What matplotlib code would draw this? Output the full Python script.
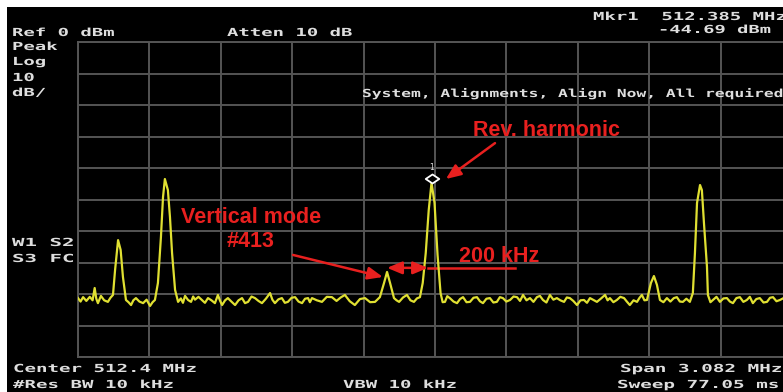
import numpy as np

from matplotlib import pyplot as plt
from matplotlib.path import Path
from matplotlib.patches import Rectangle
from matplotlib.patheffects import AbstractPathEffect
from matplotlib.transforms import Affine2D

W, H = 783, 392  # output size in pixels

# analyzer settings shown on screen
center_mhz = 512.4
span_mhz = 3.082
ref_dbm = 0
db_per_div = 10
atten_db = 10
rbw_khz = 10
vbw_khz = 10
sweep_ms = 77.05

marker_mhz = 512.385
marker_dbm = -44.69

# trace, 8 points per row
trace_mhz = [
    510.859, 510.870, 510.881, 510.895, 510.910, 510.922, 510.931, 510.938,
    510.945, 510.958, 510.972, 510.988, 510.999, 511.010, 511.019, 511.032,
    511.043, 511.053, 511.066, 511.077, 511.088, 511.098, 511.109, 511.124,
    511.140, 511.155, 511.170, 511.181, 511.191, 511.204, 511.217, 511.226,
    511.234, 511.247, 511.256, 511.265, 511.278, 511.291, 511.303, 511.312,
    511.321, 511.334, 511.347, 511.356, 511.364, 511.379, 511.394, 511.407,
    511.420, 511.435, 511.450, 511.463, 511.472, 511.481, 511.494, 511.506,
    511.521, 511.537, 511.552, 511.567, 511.580, 511.593, 511.608, 511.623,
    511.638, 511.653, 511.670, 511.688, 511.698, 511.709, 511.724, 511.739,
    511.752, 511.765, 511.781, 511.796, 511.811, 511.826, 511.839, 511.852,
    511.860, 511.869, 511.890, 511.912, 511.933, 511.955, 511.975, 511.993,
    512.011, 512.032, 512.054, 512.076, 512.098, 512.120, 512.141, 512.162,
    512.180, 512.193, 512.206, 512.223, 512.234, 512.245, 512.262, 512.279,
    512.294, 512.309, 512.322, 512.335, 512.347, 512.360, 512.373, 512.385,
    512.398, 512.411, 512.424, 512.433, 512.443, 512.453, 512.464, 512.480,
    512.495, 512.508, 512.521, 512.536, 512.551, 512.566, 512.581, 512.594,
    512.607, 512.622, 512.637, 512.652, 512.667, 512.680, 512.693, 512.708,
    512.724, 512.739, 512.754, 512.767, 512.780, 512.795, 512.810, 512.825,
    512.840, 512.853, 512.866, 512.881, 512.896, 512.911, 512.926, 512.941,
    512.957, 512.969, 512.982, 512.997, 513.013, 513.028, 513.043, 513.056,
    513.069, 513.084, 513.099, 513.117, 513.134, 513.145, 513.155, 513.170,
    513.185, 513.200, 513.216, 513.228, 513.241, 513.257, 513.272, 513.283,
    513.293, 513.304, 513.315, 513.332, 513.345, 513.358, 513.371, 513.386,
    513.401, 513.416, 513.431, 513.444, 513.457, 513.470, 513.485, 513.500,
    513.513, 513.522, 513.531, 513.544, 513.552, 513.561, 513.574, 513.578,
    513.589, 513.600, 513.615, 513.630, 513.645, 513.660, 513.673, 513.686,
    513.701, 513.716, 513.731, 513.746, 513.759, 513.772, 513.787, 513.802,
    513.818, 513.833, 513.846, 513.859, 513.874, 513.889, 513.915, 513.941,
]
trace_dbm = [
    -81.3, -82.4, -81.0, -82.2, -80.9, -82.0, -78.1, -81.5,
    -82.9, -80.6, -82.0, -82.5, -81.2, -80.3, -72.4, -62.9,
    -66.0, -74.6, -81.9, -82.6, -83.5, -82.0, -81.3, -82.4,
    -82.9, -81.8, -83.8, -82.6, -81.9, -76.5, -61.9, -49.2,
    -43.5, -47.0, -55.6, -67.0, -78.7, -82.5, -81.4, -82.8,
    -80.6, -81.9, -82.5, -80.8, -81.8, -80.9, -81.9, -82.8,
    -81.3, -82.0, -82.9, -80.3, -82.1, -83.5, -82.0, -81.3,
    -82.4, -83.5, -82.0, -81.3, -82.9, -82.5, -80.8, -81.3,
    -82.2, -82.9, -81.5, -79.7, -81.8, -82.9, -81.7, -81.3,
    -82.8, -82.5, -81.2, -81.0, -82.4, -82.9, -81.5, -81.3,
    -82.6, -81.3, -82.0, -82.5, -80.9, -81.0, -82.2, -81.1,
    -80.3, -82.3, -83.5, -81.6, -81.3, -82.6, -82.5, -81.0,
    -76.5, -73.0, -76.5, -81.3, -82.0, -82.5, -81.1, -80.3,
    -82.0, -82.5, -81.4, -81.0, -76.5, -67.0, -53.3, -44.7,
    -51.1, -67.6, -79.7, -82.6, -82.5, -80.7, -81.3, -82.4,
    -82.9, -81.6, -81.0, -82.6, -82.5, -81.2, -81.0, -82.3,
    -82.9, -81.5, -81.3, -82.7, -82.5, -81.0, -81.3, -82.4,
    -81.9, -80.8, -81.0, -82.2, -80.3, -82.0, -81.3, -82.5,
    -81.0, -80.6, -81.9, -82.7, -80.3, -81.8, -81.3, -82.0,
    -82.5, -81.1, -81.3, -82.2, -83.5, -82.0, -81.9, -82.8,
    -81.3, -81.9, -82.5, -81.4, -80.3, -82.0, -81.3, -82.6,
    -81.9, -80.9, -81.3, -82.4, -83.5, -82.0, -82.5, -81.2,
    -80.3, -82.0, -81.9, -76.5, -74.3, -77.1, -81.9, -82.6,
    -81.3, -82.4, -81.3, -81.0, -82.4, -82.5, -81.5, -82.5,
    -79.7, -67.0, -51.1, -45.4, -47.0, -57.5, -71.4, -80.3,
    -82.6, -81.9, -80.9, -82.5, -81.4, -81.3, -82.4, -82.9,
    -81.3, -81.0, -82.5, -81.9, -80.9, -82.9, -81.6, -81.3,
    -82.7, -82.5, -81.2, -81.0, -82.3, -81.9, -80.9, -81.3,
]

SCREEN_FG = '#dedede'
TRACE = '#e0e032'
GRID = '#555555'
RED = '#e8201f'


class Widen(AbstractPathEffect):
    """Stretch text glyphs sideways, the analyzer font is much wider than tall."""

    def __init__(self, sx):
        super().__init__()
        self.sx = sx

    def draw_path(self, renderer, gc, tpath, affine, rgbFace=None):
        renderer.draw_path(gc, tpath, Affine2D().scale(self.sx, 1.0) + affine, rgbFace)


def screen_text(fig, x, y, s, pitch=11.4, size=8.0):
    # x, y: left / baseline in screenshot pixels, pitch: pixels per character
    em = size * fig.dpi / 72
    sx = pitch / (0.602 * em)  # DejaVu Sans Mono advance is 0.602 em
    fig.text(x / W, 1 - y / H, s, family='DejaVu Sans Mono', weight='bold', fontsize=size,
             color=SCREEN_FG, ha='left', va='baseline', path_effects=[Widen(sx)])


def main():
    fig = plt.figure(figsize=(W / 100, H / 100), dpi=100, facecolor='white')

    # black analyzer screen, the screenshot has a thin white margin top and left
    fig.add_artist(Rectangle((7 / W, 0), 1, 1 - 7 / H, transform=fig.transFigure,
                             facecolor='black', edgecolor='none', zorder=0))

    # graticule runs a bit past the right edge of the capture
    ax = fig.add_axes([78 / W, 1 - 357 / H, 714 / W, 315 / H])
    ax.set_facecolor('black')
    left = center_mhz - span_mhz / 2
    right = center_mhz + span_mhz / 2
    ax.set_xlim(left, right)
    ax.set_ylim(ref_dbm - 10 * db_per_div, ref_dbm)
    ax.set_xticks(np.linspace(left, right, 11))
    ax.set_yticks(np.arange(ref_dbm - 10 * db_per_div, ref_dbm + 1, db_per_div))
    ax.tick_params(length=0, labelbottom=False, labelleft=False)
    ax.grid(True, color=GRID, lw=1.4)
    for sp in ax.spines.values():
        sp.set_color(GRID)
        sp.set_linewidth(1.4)

    ax.plot(trace_mhz, trace_dbm, color=TRACE, lw=1.6, zorder=3)

    # marker 1: diamond sitting on top of the peak
    diamond = Path([(0, 0), (1.5, 1), (0, 2), (-1.5, 1), (0, 0)],
                   [Path.MOVETO, Path.LINETO, Path.LINETO, Path.LINETO, Path.CLOSEPOLY])
    ax.plot([marker_mhz], [marker_dbm], marker=diamond, ms=13, mfc='black',
            mec='white', mew=1.3, ls='none', zorder=4)
    ax.annotate('1', (marker_mhz, marker_dbm), xytext=(0, 9.5), textcoords='offset points',
                ha='center', va='baseline', fontsize=5.5, color=SCREEN_FG)

    # red annotations
    label = dict(color=RED, family='Liberation Sans', weight='bold', fontsize=15.5)
    head = dict(color=RED, lw=1.8, shrinkA=0, shrinkB=0, mutation_scale=15)
    ax.text(512.564, -29.8, 'Rev. harmonic', ha='left', va='baseline', **label)
    ax.annotate('', xy=(512.447, -43.5), xytext=(512.659, -32.1),
                arrowprops=dict(arrowstyle='-|>,head_length=0.6,head_width=0.25', **head))
    ax.text(511.606, -57.5, 'Vertical mode', ha='center', va='baseline', **label)
    ax.text(511.606, -65.1, '#413', ha='center', va='baseline', **label)
    ax.annotate('', xy=(512.175, -74.6), xytext=(511.787, -67.6),
                arrowprops=dict(arrowstyle='-|>,head_length=0.6,head_width=0.25', **head))
    ax.text(512.503, -69.8, '200 kHz', ha='left', va='baseline', **label)
    ax.annotate('', xy=(512.193, -71.7), xytext=(512.370, -71.7),
                arrowprops=dict(arrowstyle='<|-|>,head_length=0.6,head_width=0.25', **head))
    ax.plot([512.370, 512.745], [-71.7, -71.7], color=RED, lw=1.8)

    # screen annotations
    screen_text(fig, 12, 36, f'Ref {ref_dbm} dBm')
    screen_text(fig, 227, 36, f'Atten {atten_db} dB')
    screen_text(fig, 593, 20, f'Mkr1  {marker_mhz:.3f} MHz', pitch=11.4)
    screen_text(fig, 658, 33, f'{marker_dbm:.2f} dBm', pitch=11.3)
    for y, s in zip([50, 65, 81, 96], ['Peak', 'Log', str(db_per_div), 'dB/']):
        screen_text(fig, 12, y, s)
    screen_text(fig, 362, 97, 'System, Alignments, Align Now, All required', pitch=9.8)
    screen_text(fig, 12, 246, 'W1 S2', pitch=12.5)
    screen_text(fig, 12, 262, 'S3 FC', pitch=12.5)
    screen_text(fig, 13, 372, f'Center {center_mhz} MHz', pitch=11.5)
    screen_text(fig, 13, 388, f'#Res BW {rbw_khz} kHz', pitch=11.5)
    screen_text(fig, 343, 388, f'VBW {vbw_khz} kHz', pitch=11.4)
    screen_text(fig, 620, 372, f'Span {span_mhz} MHz', pitch=11.6)
    screen_text(fig, 617, 388, f'Sweep {sweep_ms} ms', pitch=11.6)

    fig.savefig('out.png', dpi=100, facecolor='white')


if __name__ == '__main__':
    main()
